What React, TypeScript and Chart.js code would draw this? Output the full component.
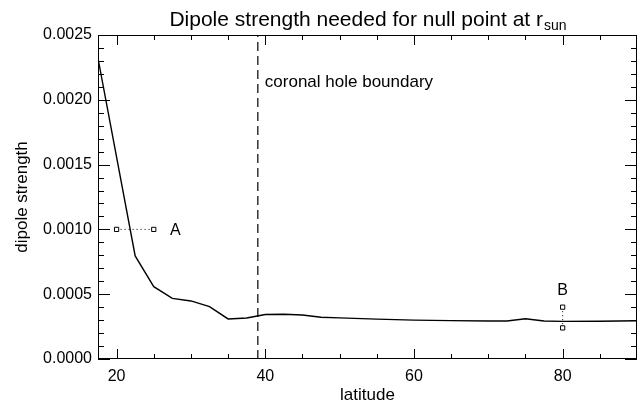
import React, { useEffect, useRef } from "react";
import { Chart, registerables } from "chart.js";

Chart.register(...registerables);

const latitudes = [17.5, 22.5, 25, 27.5, 30, 32.5, 35, 37.5, 40, 42.5, 45, 47.5, 50, 55, 60, 65, 70, 72.5, 75, 77.5, 80, 85, 90];
const strengths = [0.00232, 0.000795, 0.000558, 0.000468, 0.000448, 0.000404, 0.000309, 0.000316, 0.000343, 0.000345, 0.00034, 0.000322, 0.000317, 0.000308, 0.0003, 0.000296, 0.000293, 0.000293, 0.000311, 0.000293, 0.00029, 0.000291, 0.000295];
const pointA = [{ x: 20, y: 0.001 }, { x: 25, y: 0.001 }];
const pointB = [{ x: 80, y: 0.0004 }, { x: 80, y: 0.00024 }];
const boundaryLat = 39;
const xTicks = [20, 40, 60, 80];
const yTicks = [0, 0.0005, 0.001, 0.0015, 0.002, 0.0025];
const xMinor = [20, 25, 30, 35, 40, 45, 50, 55, 60, 65, 70, 75, 80, 85];
const yMinor = [0, 0.0001, 0.0002, 0.0003, 0.0004, 0.0005, 0.0006, 0.0007, 0.0008, 0.0009, 0.001, 0.0011, 0.0012, 0.0013, 0.0014, 0.0015, 0.0016, 0.0017, 0.0018, 0.0019, 0.002, 0.0021, 0.0022, 0.0023, 0.0024, 0.0025];

const FONT = "'Liberation Sans', Arial, Helvetica, sans-serif";

const framePlugin = {
  id: "idlFrame",
  afterDraw(chart: any) {
    const { ctx, chartArea: a, scales } = chart;
    const xs = scales.x, ys = scales.y;
    ctx.save();
    ctx.strokeStyle = "#000";
    ctx.lineWidth = 1;
    ctx.strokeRect(a.left + 0.5, a.top + 0.5, a.right - a.left - 1, a.bottom - a.top - 1);
    ctx.beginPath();
    xMinor.forEach((v) => {
      const px = Math.round(xs.getPixelForValue(v)) + 0.5;
      const len = xTicks.includes(v) ? 10 : 5;
      ctx.moveTo(px, a.bottom); ctx.lineTo(px, a.bottom - len);
      ctx.moveTo(px, a.top); ctx.lineTo(px, a.top + len);
    });
    yMinor.forEach((v, i) => {
      const py = Math.round(ys.getPixelForValue(v)) + 0.5;
      const len = i % 5 === 0 ? 12 : 6;
      ctx.moveTo(a.left, py); ctx.lineTo(a.left + len, py);
      ctx.moveTo(a.right, py); ctx.lineTo(a.right - len, py);
    });
    ctx.stroke();

    // title
    const cx = (a.left + a.right) / 2;
    const main = "Dipole strength needed for null point at r";
    const sub = "sun";
    ctx.fillStyle = "#000";
    ctx.font = `21px ${FONT}`;
    const w1 = ctx.measureText(main).width;
    ctx.font = `14px ${FONT}`;
    const w2 = ctx.measureText(sub).width;
    const start = cx - (w1 + w2) / 2;
    ctx.textBaseline = "alphabetic";
    ctx.textAlign = "left";
    ctx.font = `21px ${FONT}`;
    ctx.fillText(main, start, 26);
    ctx.font = `14px ${FONT}`;
    ctx.fillText(sub, start + w1 + 1, 30);

    // annotations
    ctx.font = `17px ${FONT}`;
    ctx.fillText("coronal hole boundary", xs.getPixelForValue(boundaryLat) + 7, 87);
    ctx.font = `16px ${FONT}`;
    ctx.fillText("A", xs.getPixelForValue(27.2), ys.getPixelForValue(0.001) + 6);
    ctx.textAlign = "center";
    ctx.fillText("B", xs.getPixelForValue(80), ys.getPixelForValue(0.000495));
    ctx.restore();
  },
};

export default function App() {
  const ref = useRef<HTMLCanvasElement | null>(null);
  useEffect(() => {
    if (!ref.current) return;
    const chart = new Chart(ref.current, {
      type: "line",
      data: {
        datasets: [
          {
            data: latitudes.map((x, i) => ({ x, y: strengths[i] })),
            borderColor: "#000",
            borderWidth: 1.4,
            pointRadius: 0,
            tension: 0,
          },
          {
            data: [{ x: boundaryLat, y: 0 }, { x: boundaryLat, y: 0.0025 }],
            borderColor: "#000",
            borderWidth: 1.2,
            borderDash: [9, 5],
            pointRadius: 0,
          },
          {
            data: pointA,
            borderColor: "#000",
            borderWidth: 1,
            borderDash: [1, 3],
            pointStyle: "rect",
            pointRadius: 3,
            pointBackgroundColor: "#fff",
            pointBorderColor: "#000",
            pointBorderWidth: 1,
          },
          {
            data: pointB,
            borderColor: "#000",
            borderWidth: 1,
            borderDash: [1, 3],
            pointStyle: "rect",
            pointRadius: 3,
            pointBackgroundColor: "#fff",
            pointBorderColor: "#000",
            pointBorderWidth: 1,
          },
        ],
      },
      options: {
        animation: false,
        responsive: false,
        events: [],
        layout: { padding: { top: 35, right: 6, left: 12, bottom: 0 } },
        plugins: { legend: { display: false }, tooltip: { enabled: false }, title: { display: false } },
        scales: {
          x: {
            type: "linear",
            min: 17.5,
            max: 90,
            grid: { display: false, drawTicks: false },
            border: { display: false },
            afterBuildTicks: (s: any) => { s.ticks = xTicks.map((v) => ({ value: v })); },
            afterFit: (s: any) => { s.height = 47; },
            ticks: { color: "#000", font: { family: FONT, size: 16 }, padding: 8, maxRotation: 0, callback: (v: any) => String(v) },
            title: { display: true, text: "latitude", color: "#000", font: { family: FONT, size: 17 }, padding: { top: 0, bottom: 0 } },
          },
          y: {
            type: "linear",
            min: 0,
            max: 0.0025,
            grid: { display: false, drawTicks: false },
            border: { display: false },
            afterBuildTicks: (s: any) => { s.ticks = yTicks.map((v) => ({ value: v })); },
            afterFit: (s: any) => { s.width = 86; },
            ticks: { color: "#000", font: { family: FONT, size: 16 }, padding: 6, callback: (v: any) => Number(v).toFixed(4) },
            title: { display: true, text: "dipole strength", color: "#000", font: { family: FONT, size: 17 }, padding: { top: 0, bottom: 0 } },
          },
        },
      },
      plugins: [framePlugin],
    });
    return () => chart.destroy();
  }, []);
  return (
    <div style={{ position: "fixed", left: 0, top: 0, width: 643, height: 406, background: "#fff" }}>
      <canvas ref={ref} width={643} height={406} style={{ width: 643, height: 406 }} />
    </div>
  );
}
